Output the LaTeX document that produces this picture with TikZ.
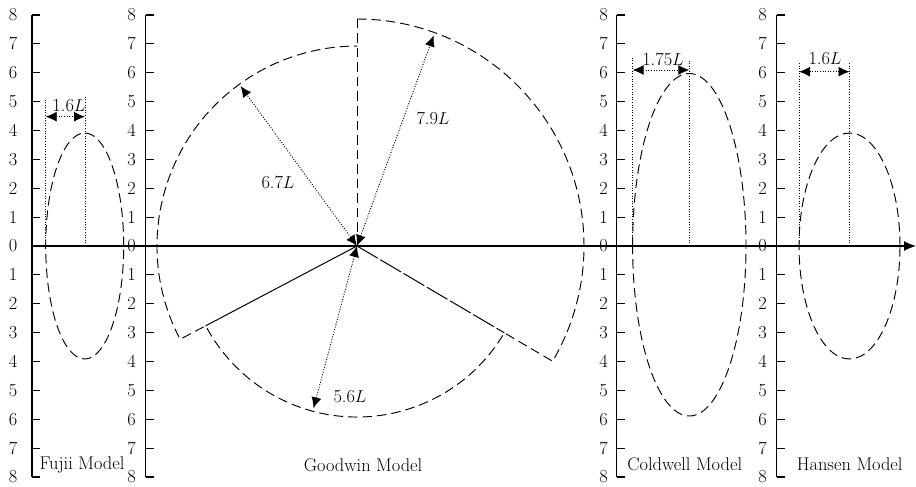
\documentclass[tikz,border=0pt]{standalone}
\usetikzlibrary{arrows.meta,calc}
\begin{document}
\begin{tikzpicture}[x=1pt,y=1pt,
  ax/.style={line width=1.2pt},
  dsh/.style={line width=0.95pt,dash pattern=on 9.5pt off 5pt},
  dotl/.style={line width=0.9pt,dash pattern=on 1pt off 1.6pt},
  ldsh/.style={line width=1pt,dash pattern=on 24pt off 3pt},
  dimarr/.style={line width=0.9pt,dash pattern=on 1pt off 1.6pt,{Latex[length=11pt,width=10pt]}-{Latex[length=11pt,width=10pt]}},
  lbl/.style={font=\fontsize{18.4}{22}\selectfont,inner sep=0pt},
]
\useasboundingbox (0,0) rectangle (916,-487);

% vertical axes with ticks and labels
\foreach \a/\o/\n in {32/19/f,145.7/14/g,616.7/13/c,776.7/14/h}{
  \draw[ax] (\a,-14.7) -- (\a,-476.7);
  \foreach \k in {1,...,8}{
    \draw[ax] (\a,-246+\k*28.875) -- ++(8,0);
    \draw[ax] (\a,-246-\k*28.875) -- ++(8,0);
    \node[lbl] (\n-u-\k) at (\a-\o,-246+\k*28.875) {\k};
    \node[lbl] (\n-d-\k) at (\a-\o,-246-\k*28.875) {\k};
  }
  \node[lbl] (\n-0) at (\a-\o,-246) {0};
}

% horizontal axis
\coordinate (O) at (32,-246);
\coordinate (E) at (916,-246);
\draw[ax,-{Latex[length=12pt,width=10pt]}] (O) -- (E);

% ---------- Fujii ----------
\draw[dsh] (84.7,-246) ellipse [x radius=39,y radius=113];
\coordinate (fL) at (45.7,-246);
\coordinate (fC) at (85,-246);
\coordinate (fLt) at (45.7,-100);
\coordinate (fCt) at (85,-97);
\draw[dotl] (fL) -- (fLt);
\draw[dotl] (fC) -- (fCt);
\coordinate (fa1) at (45.7,-116.7);
\coordinate (fa2) at (85,-116.7);
\draw[dimarr] (fa1) -- (fa2);
\node[lbl] (fdim) at (69,-106) {1.6$L$};
\node[lbl] (fname) at (82,-465) {Fujii Model};

% ---------- Goodwin ----------
\coordinate (C) at (357,-246);
\coordinate (Ptop) at (357,-19);
\coordinate (Pr5) at (504.3,-332.8);
\coordinate (Pl5) at (205.7,-325.8);
\coordinate (Pl7) at (180.1,-339.3);
\draw[dsh] (Ptop) arc[start angle=90,end angle=-30.5,radius=227]
   -- (Pr5) arc[start angle=-30.5,end angle=-152.2,radius=171]
   -- (Pl7) arc[start angle=207.8,end angle=90,radius=200];
\draw[dsh] (C) -- (Ptop);
\draw[line width=1pt] (C) -- (Pl5);
\draw[ldsh] (C) -- (Pr5);
\coordinate (g67) at (240.6,-86.1);
\coordinate (g79) at (433.6,-35.5);
\coordinate (g56) at (313.5,-408.3);
\draw[dimarr] (C) -- (g67);
\draw[dimarr] (C) -- (g79);
\draw[dimarr] (C) -- (g56);
\node[lbl] (gd67) at (278,-182) {6.7$L$};
\node[lbl] (gd79) at (433,-118) {7.9$L$};
\node[lbl] (gd56) at (350,-397) {5.6$L$};
\node[lbl] (gname) at (363,-465) {Goodwin Model};

% ---------- Coldwell ----------
\coordinate (cc) at (689.3,-246);
\draw[dsh] ($(cc)+(-56.7,0)$) arc[start angle=180,end angle=0,x radius=56.7,y radius=172.5]
   arc[start angle=0,end angle=-180,x radius=56.7,y radius=170];
\coordinate (cL) at (632.6,-246);
\coordinate (cLt) at (632.6,-56.7);
\coordinate (cCt) at (689.3,-61);
\draw[dotl] (cL) -- (cLt);
\draw[dotl] (cc) -- (cCt);
\coordinate (ca1) at (632.6,-70);
\coordinate (ca2) at (689.3,-70);
\draw[dimarr] (ca1) -- (ca2);
\node[lbl] (cdim) at (663,-59) {1.75$L$};
\node[lbl] (cname) at (684.7,-464) {Coldwell Model};

% ---------- Hansen ----------
\coordinate (hc) at (849.5,-246);
\draw[dsh] (hc) ellipse [x radius=50.5,y radius=113];
\coordinate (hL) at (799,-246);
\coordinate (hLt) at (799,-61.7);
\coordinate (hCt) at (849.5,-61.7);
\draw[dotl] (hL) -- (hLt);
\draw[dotl] (hc) -- (hCt);
\coordinate (ha1) at (799,-71.7);
\coordinate (ha2) at (849.5,-71.7);
\draw[dimarr] (ha1) -- (ha2);
\node[lbl] (hdim) at (825,-59) {1.6$L$};
\node[lbl] (hname) at (849.7,-464) {Hansen Model};
\end{tikzpicture}
\end{document}
